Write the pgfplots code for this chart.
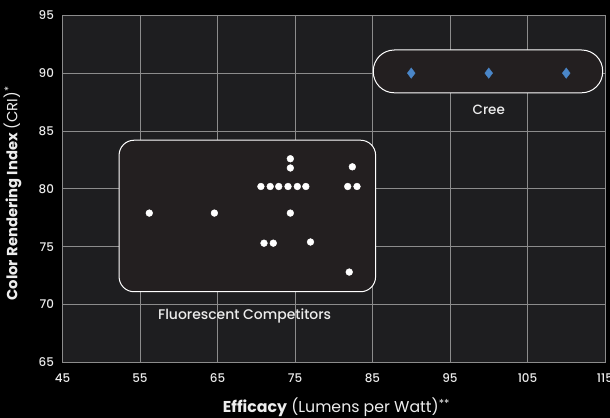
\documentclass[border=0pt]{standalone}
\usepackage{pgfplots}
\pgfplotsset{compat=1.18}
\usepackage{fontspec}
\setmainfont{Poppins}
\newfontfamily\medfont{Poppins Medium}
\definecolor{plotbg}{HTML}{1E1E20}
\definecolor{boxbg}{HTML}{231F20}
\definecolor{gridc}{HTML}{8C8C8C}
\definecolor{creeblue}{HTML}{4A86C8}
\definecolor{txt}{HTML}{EDEDED}

\begin{document}
\begin{tikzpicture}
  \fill[black] (0,0) rectangle (610bp,418bp);
  \useasboundingbox (0,0) rectangle (610bp,418bp);
  \begin{axis}[
    at={(62.5bp,55.7bp)}, anchor=south west,
    scale only axis,
    width=542.5bp, height=347bp,
    xmin=45, xmax=115, ymin=65, ymax=95,
    xtick={45,55,...,115}, ytick={65,70,...,95},
    grid=major,
    major grid style={gridc, line width=0.8bp},
    axis line style={gridc, line width=0.8bp},
    axis background/.style={fill=plotbg},
    tick style={draw=none},
    /pgf/number format/assume math mode=true,
    xticklabel={\pgfmathprintnumber{\tick}},
    yticklabel={\pgfmathprintnumber{\tick}},
    tick label style={txt, font=\medfont\fontsize{12}{14}\selectfont},
    xticklabel style={anchor=center, yshift=-16bp},
    yticklabel style={xshift=-5bp},
    xlabel={\textbf{Efficacy} (Lumens per Watt)\textsuperscript{**}},
    ylabel={\textbf{Color Rendering Index} (CRI)\textsuperscript{*}},
    xlabel style={txt, font=\fontsize{15.8}{18}\selectfont,
      at={(axis description cs:0.505,0)}, anchor=base, yshift=-50.5bp},
    ylabel style={txt, font=\fontsize{14.8}{17}\selectfont,
      at={(axis description cs:0,0.487)}, anchor=base},
    every axis y label/.append style={yshift=45.2bp},
  ]
    % annotation boxes
    \draw[rounded corners=15bp, fill=boxbg, draw=white, line width=1bp]
      (axis cs:52.3,71.1) rectangle (axis cs:85.4,84.2);
    \draw[rounded corners=21bp, fill=boxbg, draw=white, line width=1bp]
      (axis cs:85.1,88.3) rectangle (axis cs:114.7,92.0);

    \addplot[only marks, mark=*, mark size=3.4bp, mark options={fill=white, draw=white}]
      coordinates {
      (56.2,77.9) (64.6,77.9)
      (70.6,80.2) (71.8,80.2) (72.9,80.2) (74.1,80.2) (75.3,80.2) (76.4,80.2)
      (74.4,82.6) (74.4,81.8) (74.4,77.9)
      (71.0,75.3) (72.2,75.3) (77.0,75.4)
      (82.4,81.9) (81.8,80.2) (83.0,80.2)
      (82.0,72.8)
      };
    \addplot[only marks, mark=diamond*, mark size=5.2bp, mark options={fill=creeblue, draw=creeblue}]
      coordinates {(90,90) (100,90) (110,90)};

    \node[txt, font=\medfont\fontsize{13.5}{15}\selectfont] at (axis cs:100,86.85) {Cree};
    \node[txt, font=\medfont\fontsize{14}{16}\selectfont] at (axis cs:68.5,69.0) {Fluorescent Competitors};
  \end{axis}
\end{tikzpicture}
\end{document}
